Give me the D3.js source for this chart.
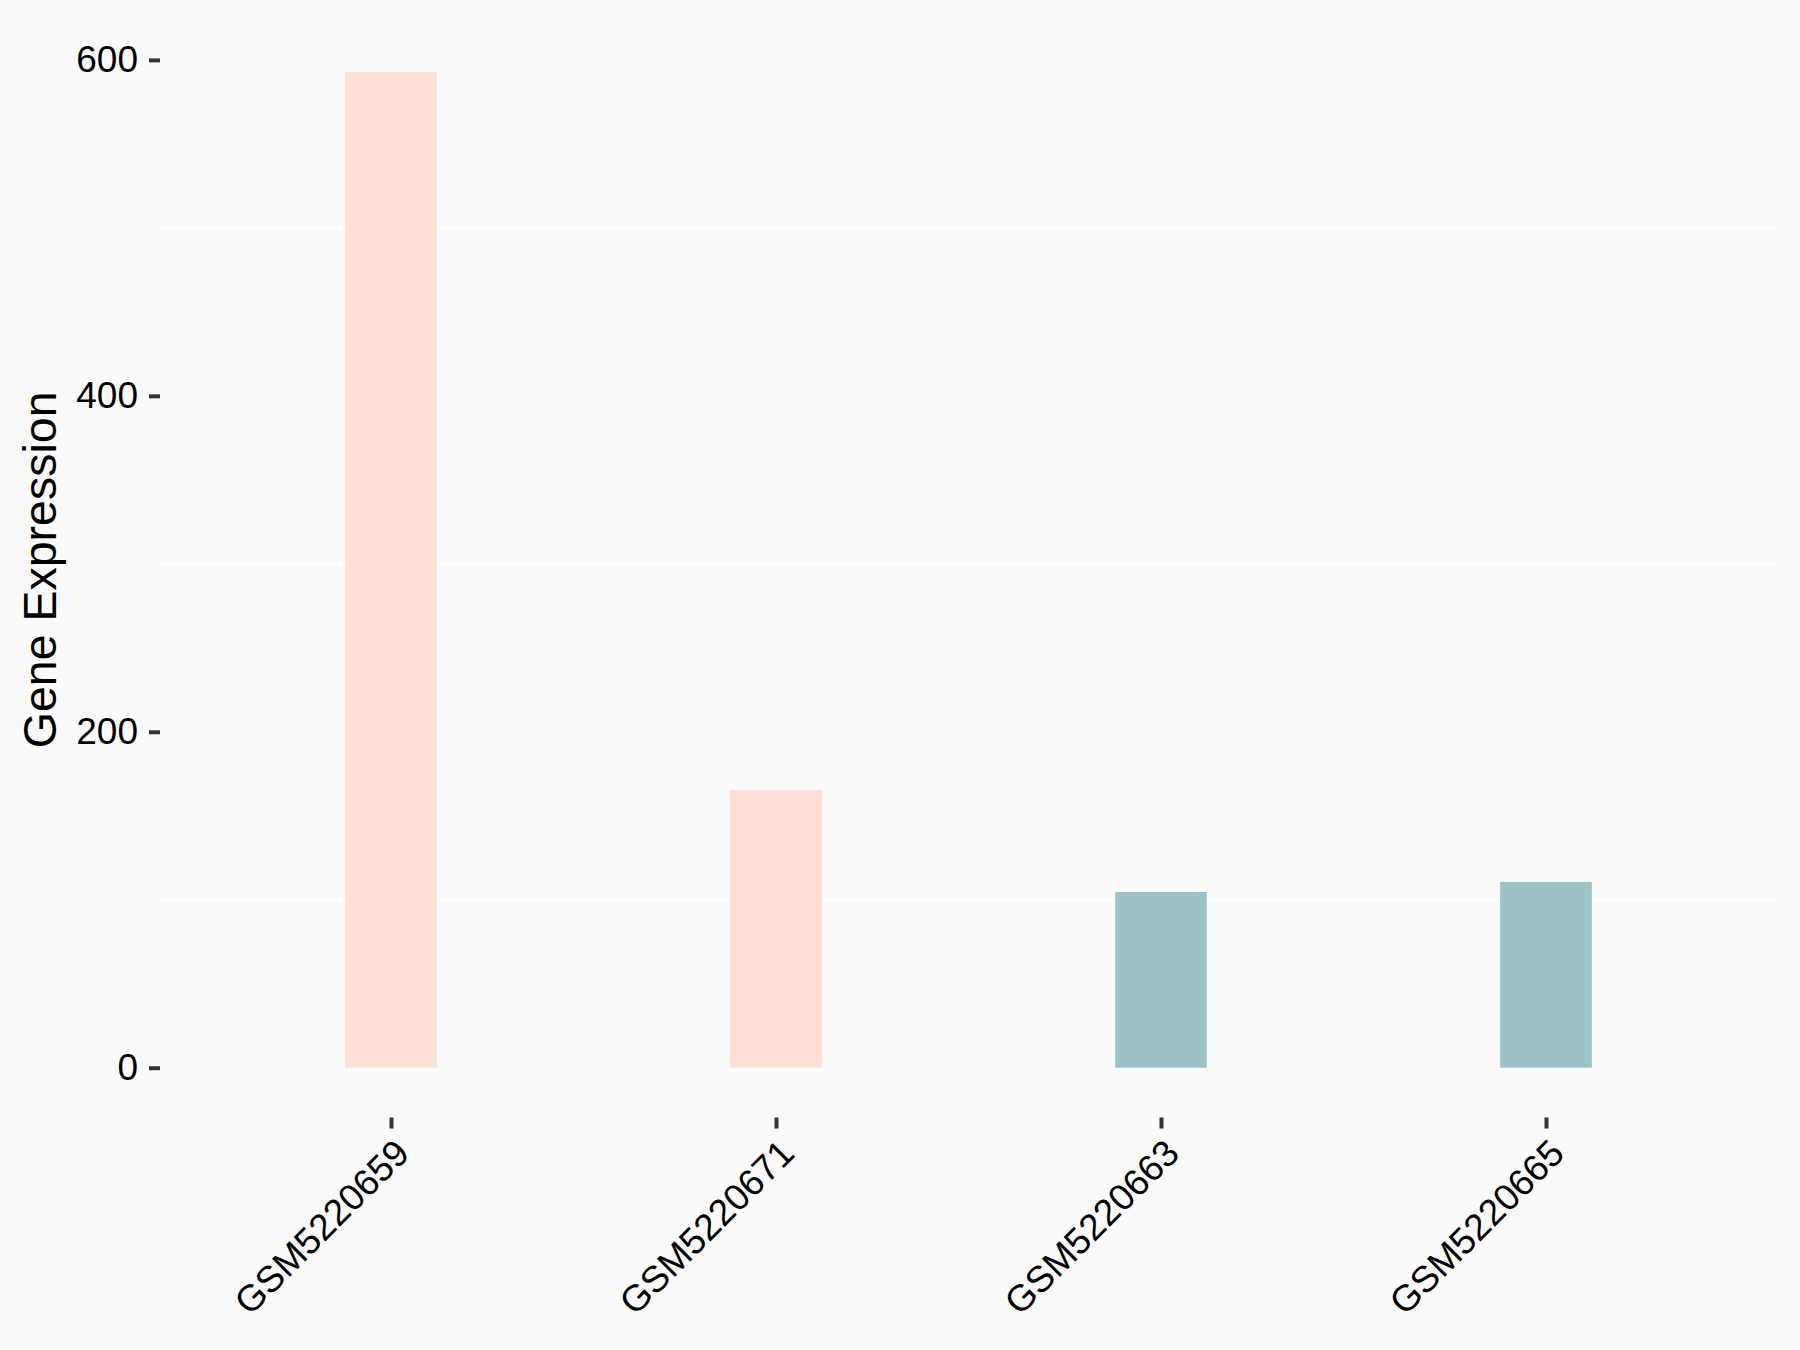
<!DOCTYPE html>
<html>
<head>
<meta charset="utf-8">
<script src="https://cdn.jsdelivr.net/npm/d3@7"></script>
<style>
  html, body { margin: 0; padding: 0; background: #FAFAFA; }
  svg { display: block; }
</style>
</head>
<body>
<script>
const samples = ["GSM5220659", "GSM5220671", "GSM5220663", "GSM5220665"];
const expression = [592.8, 165.3, 104.6, 110.6];
const groups = ["A", "A", "B", "B"];
const groupColors = { A: "#FFE0D6", B: "#9DC3C7" };
const yTicks = [0, 200, 400, 600];
const yMinorTicks = [100, 300, 500];
const yTitle = "Gene Expression";

const W = 1800, H = 1350;
const panel = { left: 160, right: 1777, top: 22.2, bottom: 1117.5 };

const svg = d3.select("body").append("svg").attr("width", W).attr("height", H);
svg.append("rect").attr("width", W).attr("height", H).attr("fill", "#FAFAFA");

const maxV = d3.max(expression);
const pad = 0.05 * maxV;
const y = d3.scaleLinear().domain([-pad, maxV + pad]).range([panel.bottom, panel.top]);
const x = d3.scalePoint().domain(samples).range([panel.left, panel.right]).padding(0.6);
const barW = x.step() * 0.238;

// minor grid lines
svg.append("g").selectAll("line").data(yMinorTicks).join("line")
  .attr("x1", panel.left).attr("x2", panel.right)
  .attr("y1", d => y(d)).attr("y2", d => y(d))
  .attr("stroke", "#FFFFFF").attr("stroke-width", 2);

// bars
svg.append("g").selectAll("rect").data(samples).join("rect")
  .attr("x", d => x(d) - barW / 2)
  .attr("width", barW)
  .attr("y", (d, i) => y(expression[i]))
  .attr("height", (d, i) => y(0) - y(expression[i]))
  .attr("fill", (d, i) => groupColors[groups[i]]);

const font = "'Liberation Sans', Arial, sans-serif";

// y axis
const yAxis = d3.axisLeft(y).tickValues(yTicks).tickSize(11).tickPadding(11).tickFormat(d3.format("d"));
const gy = svg.append("g").attr("transform", `translate(${panel.left},0)`).call(yAxis);
gy.select(".domain").remove();
gy.selectAll(".tick line").attr("stroke", "#333333").attr("stroke-width", 4);
gy.selectAll(".tick text").attr("font-family", font).attr("font-size", 37).attr("fill", "#000");

// x axis
const xAxis = d3.axisBottom(x).tickSize(11).tickPadding(0);
const gx = svg.append("g").attr("transform", `translate(0,${panel.bottom})`).call(xAxis);
gx.select(".domain").remove();
gx.selectAll(".tick line").attr("stroke", "#333333").attr("stroke-width", 4);
gx.selectAll(".tick text")
  .attr("font-family", font).attr("font-size", 37).attr("fill", "#000")
  .attr("text-anchor", "end")
  .attr("y", 0).attr("dy", "0.72em")
  .attr("transform", "translate(1,19) rotate(-45)");

// y title
svg.append("text")
  .attr("transform", `translate(56,${(panel.top + panel.bottom) / 2}) rotate(-90)`)
  .attr("text-anchor", "middle")
  .attr("font-family", font).attr("font-size", 46.5).attr("fill", "#000")
  .text(yTitle);
</script>
</body>
</html>
